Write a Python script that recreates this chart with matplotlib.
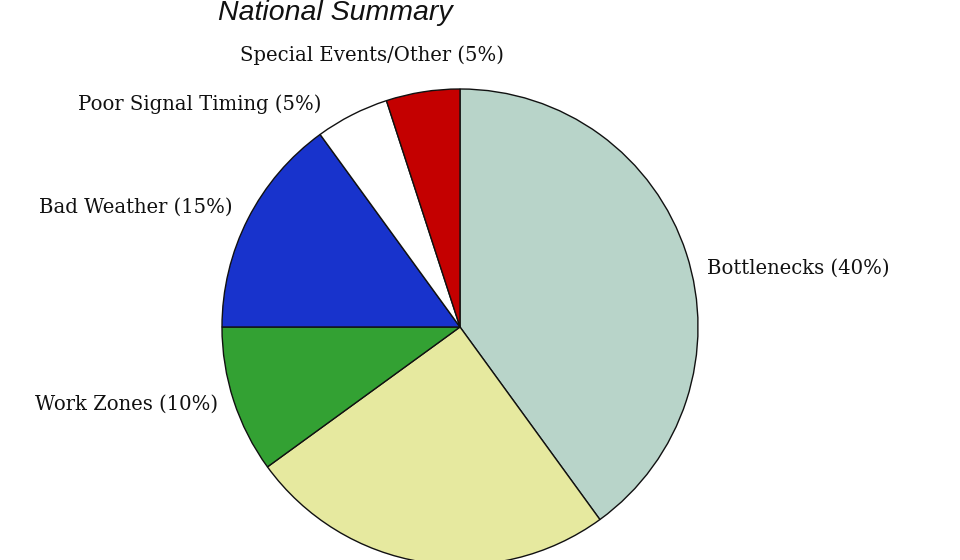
import matplotlib
matplotlib.use("Agg")
import matplotlib.pyplot as plt

categories = ["Bottlenecks", "Incidents", "Work Zones", "Bad Weather",
              "Poor Signal Timing", "Special Events/Other"]
shares = [40, 25, 10, 15, 5, 5]
colors = ["#b8d4c9", "#e6e99f", "#33a133", "#1833cc", "#ffffff", "#c40000"]
title = "National Summary"

# label layout (data units, pie radius = 1); None = label falls outside the picture
label_pos = [(1.038, 0.248, "left"), None, (-1.017, -0.324, "right"),
             (-0.954, 0.504, "right"), (-0.584, 0.937, "right"), (-0.37, 1.143, "center")]

fig = plt.figure(figsize=(9.6, 5.6), dpi=100)
R = 238
cx, cy = 460, 327
ax = fig.add_axes([(cx - R) / 960, (560 - cy - R) / 560, 2 * R / 960, 2 * R / 560])
wedges, _ = ax.pie(shares, colors=colors, startangle=90, counterclock=False,
                   radius=1, wedgeprops=dict(edgecolor="#111111", linewidth=1.0))
ax.set_xlim(-1, 1)
ax.set_ylim(-1, 1)
ax.set_aspect("equal")
ax.axis("off")

for cat, val, pos in zip(categories, shares, label_pos):
    if pos is None:
        continue
    x, y, ha = pos
    ax.text(x, y, f"{cat} ({val}%)", ha=ha, va="center", fontsize=14.1,
            family="DejaVu Serif", color="#111111", clip_on=False)

fig.text(335 / 960, 1 - 20 / 560, title, ha="center", va="baseline", fontsize=20.5,
         family="Liberation Sans", style="italic", color="#111111")

fig.savefig("out.png", dpi=100)
